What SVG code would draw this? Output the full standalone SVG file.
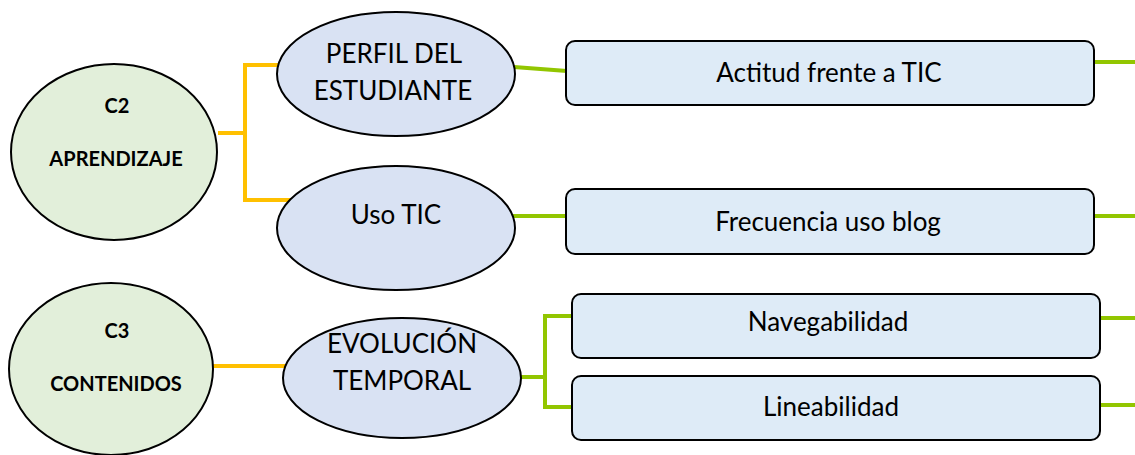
<svg xmlns="http://www.w3.org/2000/svg" width="1135" height="455" viewBox="0 0 1135 455">
<style>
.cat{fill:#e2efda;stroke:#000;stroke-width:2}
.sub{fill:#d9e2f3;stroke:#000;stroke-width:2}
.box{fill:#deebf7;stroke:#000;stroke-width:2}
.or{fill:none;stroke:#ffc000;stroke-width:4}
.gr{fill:none;stroke:#92c600;stroke-width:4}
.b{font-family:Lato,"Liberation Sans",sans-serif;font-weight:bold;font-size:20px;fill:#000;text-anchor:middle}
.t{font-family:Lato,"Liberation Sans",sans-serif;font-size:26px;fill:#000;text-anchor:middle}
</style>
<rect width="1135" height="455" fill="#fff"/>
<g id="connectors">
<path class="or" d="M218,133 H245 M245,65 V200 M243,65 H285 M243,200 H292"/>
<path class="or" d="M213,366 H287"/>
<path class="gr" d="M514,67 L567,71 M1093,62 H1135"/>
<path class="gr" d="M512,216 H567 M1093,216 H1135"/>
<path class="gr" d="M519,377 H545 M545,316 V407 M543,316 H573 M543,407 H573 M1099,318 H1135 M1099,405 H1135"/>
</g>
<g id="c2"><ellipse class="cat" cx="114" cy="152" rx="103" ry="88"/><text class="b" x="117" y="113">C2</text><text class="b" x="116" y="166">APRENDIZAJE</text></g>
<g id="c3"><ellipse class="cat" cx="111" cy="369" rx="102" ry="86"/><text class="b" x="117" y="338">C3</text><text class="b" x="116" y="391">CONTENIDOS</text></g>
<g id="perfil"><ellipse class="sub" cx="396" cy="74" rx="119" ry="62"/><text class="t" x="394" y="63">PERFIL DEL</text><text class="t" x="393" y="100">ESTUDIANTE</text></g>
<g id="uso"><ellipse class="sub" cx="396" cy="228" rx="119" ry="62"/><text class="t" x="396" y="224">Uso TIC</text></g>
<g id="evolucion"><ellipse class="sub" cx="402" cy="378" rx="119" ry="60"/><text class="t" x="402" y="353">EVOLUCIÓN</text><text class="t" x="402" y="390">TEMPORAL</text></g>
<g id="actitud"><rect class="box" x="566" y="41" width="528" height="64" rx="9"/><text class="t" x="829" y="82">Actitud frente a TIC</text></g>
<g id="frecuencia"><rect class="box" x="566" y="189" width="528" height="65" rx="9"/><text class="t" x="828" y="231">Frecuencia uso blog</text></g>
<g id="navegabilidad"><rect class="box" x="572" y="294" width="528" height="64" rx="9"/><text class="t" x="828" y="331">Navegabilidad</text></g>
<g id="lineabilidad"><rect class="box" x="572" y="376" width="528" height="64" rx="9"/><text class="t" x="831" y="416">Lineabilidad</text></g>
</svg>
